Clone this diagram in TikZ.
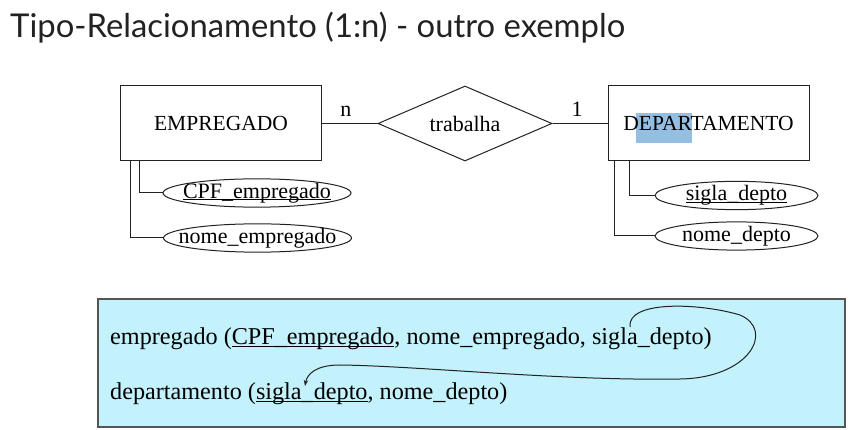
\documentclass[tikz,border=0pt]{standalone}
\usepackage{fontspec}
\setmainfont{Liberation Serif}
\newfontfamily\titlefont{Lato}
\usetikzlibrary{arrows.meta,shapes.geometric}
\definecolor{tabfill}{HTML}{C3F1FC}
\definecolor{tabline}{HTML}{555555}
\definecolor{selmark}{HTML}{94BFE3}
\definecolor{titletext}{HTML}{222222}
\definecolor{inkline}{HTML}{222222}
% key underline, close under the baseline
\newcommand{\keyul}[1]{\setbox0\hbox{#1}\rlap{\rule[-2.2pt]{\wd0}{1pt}}\box0}
\tikzset{
  entbox/.style={draw=inkline, line width=1pt, minimum width=201pt, minimum height=75pt,
    font=\fontsize{21.5}{24}\selectfont},
  relbox/.style={draw=inkline, line width=1pt, diamond, aspect=2.3, inner sep=0pt,
    minimum width=174pt, minimum height=75pt, font=\fontsize{22}{24}\selectfont},
  attr/.style={draw=inkline, line width=1pt, ellipse, inner sep=0pt, minimum width=188pt,
    minimum height=28pt, font=\fontsize{22}{24}\selectfont},
  conn/.style={draw=inkline, line width=1pt},
  card/.style={font=\fontsize{22}{24}\selectfont, inner sep=1pt},
  tabbox/.style={draw=tabline, line width=1.4pt, fill=tabfill},
  tabtext/.style={anchor=base west, inner sep=0pt, font=\fontsize{24.2}{26}\selectfont},
  fkarr/.style={-{Stealth[length=6pt, width=4.5pt]}, draw=inkline, line width=1pt}
}
\begin{document}
\begin{tikzpicture}[x=1pt,y=-1pt]
  \useasboundingbox (0,0) rectangle (855,430);
  \node[anchor=base west, inner sep=0pt, text=titletext, font=\titlefont\fontsize{32.8}{36}\selectfont]
    (title) at (10,38) {Tipo-Relacionamento (1:n) - outro exemplo};

  % selection mark behind DEPARTAMENTO
  \fill[selmark] (636,113) rectangle (692,143);

  \node[entbox] (emp) at (221,123.5) {EMPREGADO};
  \node[relbox] (rel) at (465,123.5) {trabalha};
  \node[entbox] (dep) at (708.5,123.5) {DEPARTAMENTO};
  \draw[conn] (emp) -- node[card, above=5pt, xshift=-4pt] {n} (rel);
  \draw[conn] (rel) -- node[card, above=5pt, xshift=-3pt] {1} (dep);

  \node[attr] (cpf) at (257,193) {\makebox[0pt]{\keyul{CPF\_empregado}}};
  \node[attr] (nomeemp) at (257.5,238) {\makebox[0pt]{nome\_empregado}};
  \node[attr, minimum width=163pt] (sigla) at (736.5,195.5) {\makebox[0pt]{\keyul{sigla\_depto}}};
  \node[attr, minimum width=163pt] (nomedep) at (736.5,236) {\makebox[0pt]{nome\_depto}};
  \draw[conn] ([xshift=19pt]emp.south west) |- (cpf.west);
  \draw[conn] ([xshift=10pt]emp.south west) |- (nomeemp.west);
  \draw[conn] ([xshift=22pt]dep.south west) |- (sigla.west);
  \draw[conn] ([xshift=7pt]dep.south west) |- (nomedep.west);

  \node[tabbox, minimum width=747pt, minimum height=128pt] (tab) at (471.5,363) {};
  \node[tabtext] (emprel) at (110,345)
    {empregado (\keyul{CPF\_empregado}, nome\_empregado, sigla\_depto)};
  \node[tabtext] (deprel) at (110,400)
    {departamento (\keyul{sigla\_depto}, nome\_depto)};
  \coordinate (fkfrom) at (630,327);
  \coordinate (fkto) at (305,386);
  \draw[fkarr] (fkfrom) .. controls (627,300) and (700,303) .. (740,315)
    .. controls (775,330) and (750,378) .. (680,379)
    .. controls (560,381) and (420,366) .. (340,365)
    .. controls (316,365) and (307,374) .. (fkto);
\end{tikzpicture}
\end{document}
